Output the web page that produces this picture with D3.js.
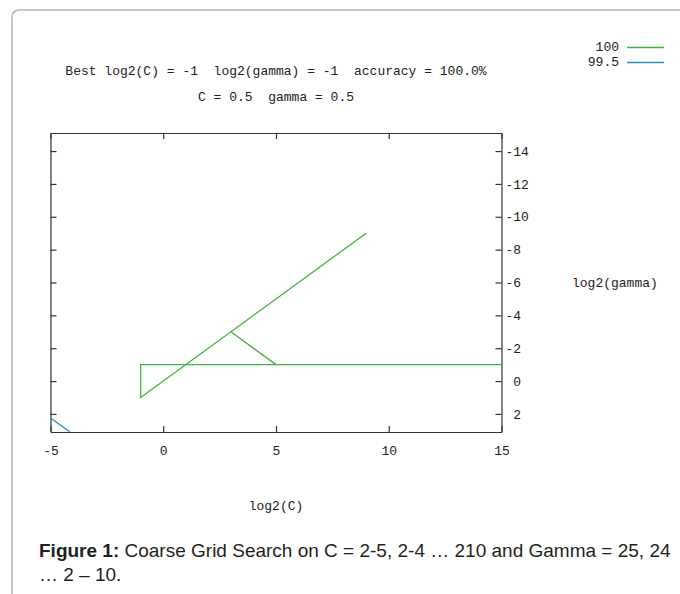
<!DOCTYPE html>
<html>
<head>
<meta charset="utf-8">
<script src="https://cdn.jsdelivr.net/npm/d3@7"></script>
<style>
  body { margin: 0; background: #fff; }
  .mono { font-family: "Liberation Mono", "DejaVu Sans Mono", monospace; font-size: 13px; fill: #222; }
  .caption { font-family: "Liberation Sans", Arial, sans-serif; font-size: 19px; fill: #231f20; }
</style>
</head>
<body>
<script>
// Tick values
var xTicks = [-5, 0, 5, 10, 15];
var yTicks = [-14, -12, -10, -8, -6, -4, -2, 0, 2];

// Contour levels and their line pieces, as [log2(C), log2(gamma)] pairs
var levels = ["100", "99.5"];
var contour100 = [
    [[15, -1], [-1, -1], [-1, 1], [9, -9]],
    [[3, -3], [5, -1]]
];
var contour995 = [
    [[-5, 2.25], [-4.15, 3.08]]
];
var levelColors = ["#44b23c", "#2a90b8"];

var svg = d3.select("body").append("svg")
    .attr("width", 680)
    .attr("height", 594);

// Page frame with the rounded corner
svg.append("rect")
    .attr("x", 12).attr("y", 10)
    .attr("width", 720).attr("height", 640)
    .attr("rx", 7)
    .style("fill", "none")
    .style("stroke", "#b4b4b4")
    .style("stroke-width", 1.5);

// Plot box
var plotLeft = 50.5, plotRight = 501.5, plotTop = 133, plotBottom = 432;

var x = d3.scaleLinear().domain([-5, 15]).range([plotLeft, plotRight]);
var y = d3.scaleLinear().domain([-15.1, 3.1]).range([plotTop, plotBottom]);

// plain hyphen minus, like gnuplot prints it
var fmtX = function (d) { return String(d); };
var fmtY = function (d) { return d < 0 ? String(d) : "\u00a0" + d; };

// Bottom axis, ticks pointing inwards
svg.append("g")
    .attr("transform", "translate(0," + plotBottom + ")")
    .call(d3.axisBottom(x).tickValues(xTicks).tickSizeInner(-6).tickSizeOuter(0).tickPadding(14).tickFormat(fmtX));

// Top axis, no labels
svg.append("g")
    .attr("transform", "translate(0," + plotTop + ")")
    .call(d3.axisTop(x).tickValues(xTicks).tickSizeInner(-6).tickSizeOuter(0).tickFormat(""));

// Right axis with gamma labels
svg.append("g")
    .attr("transform", "translate(" + plotRight + ",0)")
    .call(d3.axisRight(y).tickValues(yTicks).tickSizeInner(-6).tickSizeOuter(0).tickPadding(4).tickFormat(fmtY));

// Left axis, no labels
svg.append("g")
    .attr("transform", "translate(" + plotLeft + ",0)")
    .call(d3.axisLeft(y).tickValues(yTicks).tickSizeInner(-6).tickSizeOuter(0).tickFormat(""));

svg.selectAll(".domain, .tick line").style("stroke", "#333").style("stroke-width", 1.2);
svg.selectAll(".tick text")
    .style("font-family", "'Liberation Mono', monospace")
    .style("font-size", "13px")
    .style("fill", "#222");

// Contour lines
var line = d3.line()
    .x(function (d) { return x(d[0]); })
    .y(function (d) { return y(d[1]); });

[contour100, contour995].forEach(function (pieces, i) {
    svg.append("g").selectAll("path")
        .data(pieces)
        .enter().append("path")
        .attr("d", line)
        .style("fill", "none")
        .style("stroke", levelColors[i])
        .style("stroke-width", 1.3);
});

// Legend
levels.forEach(function (lv, i) {
    svg.append("text")
        .attr("class", "mono")
        .attr("x", 619)
        .attr("y", 51 + i * 15)
        .attr("text-anchor", "end")
        .text(lv);
    svg.append("line")
        .attr("x1", 627).attr("x2", 664)
        .attr("y1", 47.5 + i * 15).attr("y2", 47.5 + i * 15)
        .style("stroke", levelColors[i])
        .style("stroke-width", 1.5);
});

// Titles
svg.append("text")
    .attr("class", "mono")
    .attr("x", (plotLeft + plotRight) / 2)
    .attr("y", 75)
    .attr("text-anchor", "middle")
    .style("white-space", "pre")
    .text("Best log2(C) = -1  log2(gamma) = -1  accuracy = 100.0%");

svg.append("text")
    .attr("class", "mono")
    .attr("x", (plotLeft + plotRight) / 2)
    .attr("y", 101)
    .attr("text-anchor", "middle")
    .style("white-space", "pre")
    .text("C = 0.5  gamma = 0.5");

// Axis titles
svg.append("text")
    .attr("class", "mono")
    .attr("x", (plotLeft + plotRight) / 2)
    .attr("y", 510)
    .attr("text-anchor", "middle")
    .text("log2(C)");

svg.append("text")
    .attr("class", "mono")
    .attr("x", 572)
    .attr("y", 287)
    .text("log2(gamma)");

// Figure caption
var cap = svg.append("text")
    .attr("class", "caption")
    .attr("x", 39)
    .attr("y", 557);
cap.append("tspan").style("font-weight", "bold").text("Figure 1:");
cap.append("tspan").text(" Coarse Grid Search on C = 2-5, 2-4 \u2026 210 and Gamma = 25, 24");

svg.append("text")
    .attr("class", "caption")
    .attr("x", 39)
    .attr("y", 581)
    .text("\u2026 2 \u2013 10.");
</script>
</body>
</html>
